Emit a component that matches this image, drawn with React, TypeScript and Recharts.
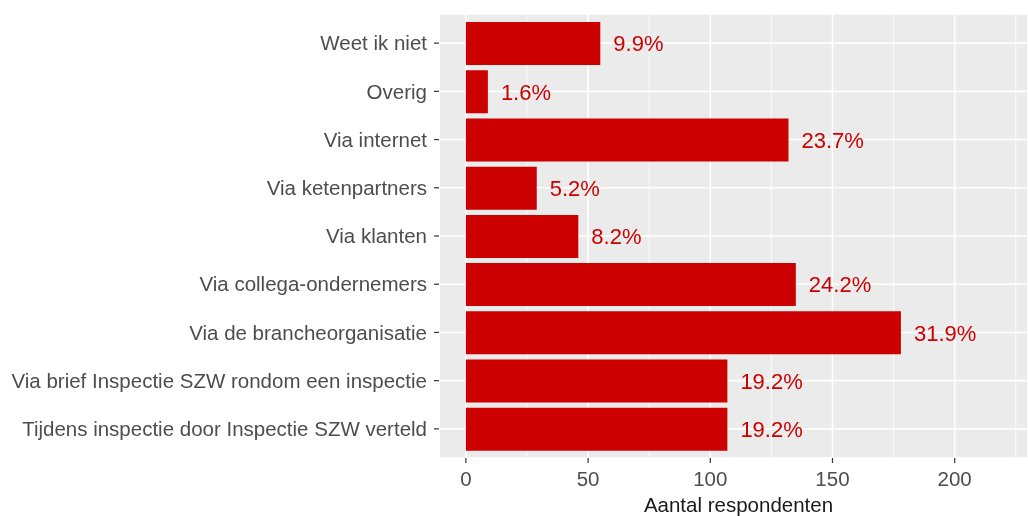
import React from "react";
import {
  BarChart,
  Bar,
  XAxis,
  YAxis,
  CartesianGrid,
  LabelList,
} from "recharts";

const categories = [
  "Weet ik niet",
  "Overig",
  "Via internet",
  "Via ketenpartners",
  "Via klanten",
  "Via collega-ondernemers",
  "Via de brancheorganisatie",
  "Via brief Inspectie SZW rondom een inspectie",
  "Tijdens inspectie door Inspectie SZW verteld",
];
const counts = [55, 9, 132, 29, 46, 135, 178, 107, 107];
const percentLabels = ["9.9%", "1.6%", "23.7%", "5.2%", "8.2%", "24.2%", "31.9%", "19.2%", "19.2%"];
const majorTicks = [0, 50, 100, 150, 200];
const minorTicks = [25, 75, 125, 175, 225];

const data = categories.map((name, i) => ({
  name,
  value: counts[i],
  pct: percentLabels[i],
}));

const FONT = "Liberation Sans, Arial, sans-serif";

const App: React.FC = () => {
  return (
    <div style={{ position: "fixed", top: 0, left: 0, fontFamily: FONT }}>
      <BarChart
        width={1028}
        height={516}
        layout="vertical"
        data={data}
        margin={{ top: 14, right: 0, bottom: 0, left: 0 }}
      >
        {/* minor grid first, then major on top */}
        <CartesianGrid
          xAxisId="minor"
          horizontal={false}
          stroke="#FFFFFF"
          strokeWidth={0.8}
          fill="#EBEBEB"
          fillOpacity={1}
        />
        <CartesianGrid stroke="#FFFFFF" strokeWidth={1.6} />
        <XAxis
          xAxisId="minor"
          type="number"
          domain={[-11, 230]}
          ticks={minorTicks}
          allowDataOverflow
          hide
        />
        <XAxis
          type="number"
          domain={[-11, 230]}
          ticks={majorTicks}
          allowDataOverflow
          height={58}
          axisLine={false}
          tickSize={5}
          tickMargin={8}
          tickLine={{ stroke: "#333333", strokeWidth: 1.2 }}
          tick={{ fill: "#4D4D4D", fontSize: 20.5, fontFamily: FONT }}
          label={{
            value: "Aantal respondenten",
            position: "insideBottom",
            offset: 4,
            dx: 5,
            fill: "#1A1A1A",
            fontSize: 20.5,
            fontFamily: FONT,
          }}
        />
        <YAxis
          type="category"
          dataKey="name"
          width={439}
          padding={{ top: 5, bottom: 5 }}
          axisLine={false}
          tickSize={5}
          tickMargin={7}
          interval={0}
          tickLine={{ stroke: "#333333", strokeWidth: 1.2 }}
          tick={{ fill: "#4D4D4D", fontSize: 20.5, fontFamily: FONT }}
        />
        <Bar dataKey="value" fill="#CC0000" barSize={43} isAnimationActive={false}>
          <LabelList
            dataKey="pct"
            position="right"
            offset={13}
            fill="#CC0000"
            fontSize={22}
            fontFamily={FONT}
          />
        </Bar>
      </BarChart>
    </div>
  );
};

export default App;
